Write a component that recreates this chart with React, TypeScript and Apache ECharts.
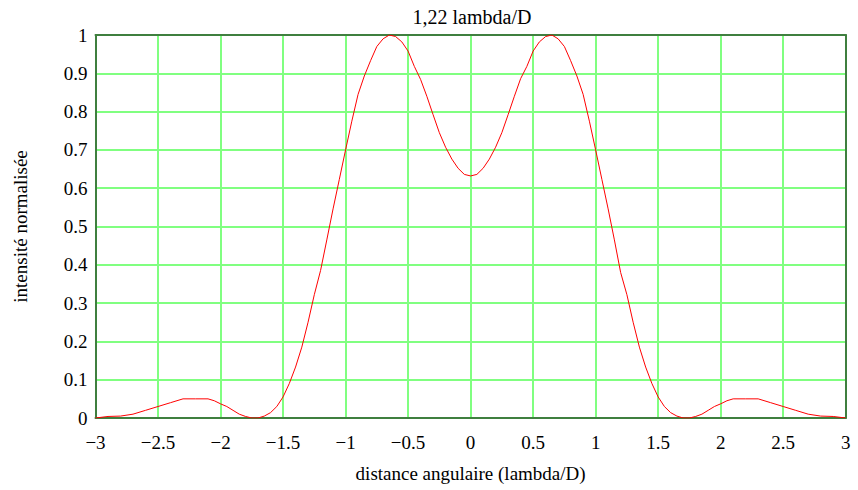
import React, { useEffect, useRef } from "react";
import * as echarts from "echarts";

const TITLE = "1,22 lambda/D";
const X_NAME = "distance angulaire (lambda/D)";
const Y_NAME = "intensité normalisée";

const xValues = [
  -3.0, -2.9, -2.8, -2.7, -2.6, -2.5, -2.4, -2.3, -2.2, -2.1, -2.05, -2.0, -1.95, -1.9, -1.85, -1.8, -1.75, -1.7,
  -1.65, -1.6, -1.55, -1.5, -1.45, -1.4, -1.35, -1.3, -1.25, -1.2, -1.15, -1.1, -1.05, -1.0, -0.95, -0.9, -0.85,
  -0.8, -0.75, -0.7, -0.65, -0.6, -0.55, -0.5, -0.45, -0.4, -0.35, -0.3, -0.25, -0.2, -0.15, -0.1, -0.05, 0.0,
  0.05, 0.1, 0.15, 0.2, 0.25, 0.3, 0.35, 0.4, 0.45, 0.5, 0.55, 0.6, 0.65, 0.7, 0.75, 0.8, 0.85, 0.9, 0.95, 1.0,
  1.05, 1.1, 1.15, 1.2, 1.25, 1.3, 1.35, 1.4, 1.45, 1.5, 1.55, 1.6, 1.65, 1.7, 1.75, 1.8, 1.85, 1.9, 1.95, 2.0,
  2.05, 2.1, 2.2, 2.3, 2.4, 2.5, 2.6, 2.7, 2.8, 2.9, 3.0,
];

const intensity = [
  0.0, 0.004, 0.005, 0.01, 0.02, 0.03, 0.04, 0.05, 0.05, 0.05, 0.045, 0.037, 0.03, 0.02, 0.01, 0.004, 0.0, 0.0,
  0.005, 0.014, 0.03, 0.055, 0.09, 0.133, 0.185, 0.25, 0.322, 0.385, 0.465, 0.546, 0.623, 0.7, 0.775, 0.845, 0.893,
  0.933, 0.97, 0.99, 1.0, 0.996, 0.982, 0.958, 0.918, 0.884, 0.84, 0.792, 0.745, 0.707, 0.676, 0.652, 0.636, 0.632,
  0.636, 0.652, 0.676, 0.707, 0.745, 0.792, 0.84, 0.886, 0.918, 0.958, 0.982, 0.996, 1.0, 0.99, 0.97, 0.933, 0.893, 0.845, 0.775, 0.7,
  0.623, 0.546, 0.465, 0.38, 0.322, 0.25, 0.185, 0.133, 0.09, 0.055, 0.03, 0.014, 0.005, 0.0, 0.0, 0.004, 0.01, 0.02, 0.03, 0.037,
  0.045, 0.05, 0.05, 0.05, 0.04, 0.03, 0.02, 0.01, 0.005, 0.004, 0.0,
];

const X_MIN = -3;
const X_MAX = 3;
const X_STEP = 0.5;
const Y_MIN = 0;
const Y_MAX = 1;
const Y_STEP = 0.1;

const FONT = "'Liberation Serif', 'Times New Roman', serif";
const BORDER = "#3f7f3f";
const GRID = "#80ff80";

export default function App() {
  const ref = useRef<HTMLDivElement>(null);

  useEffect(() => {
    document.body.style.margin = "0";
    if (!ref.current) return;
    const chart = echarts.init(ref.current, null, { renderer: "svg" });
    const data = xValues.map((x, i) => [x, intensity[i]]);
    const hidden = {
      axisLabel: { show: false },
      axisTick: { show: false },
      splitLine: { show: false },
      axisLine: { show: true, onZero: false, lineStyle: { color: BORDER, width: 2 } },
    };
    chart.setOption({
      animation: false,
      backgroundColor: "#ffffff",
      title: {
        text: TITLE,
        left: 472,
        top: 7,
        textAlign: "center",
        padding: 0,
        textStyle: { fontFamily: FONT, fontSize: 20, fontWeight: "normal", color: "#000" },
      },
      grid: { left: 95.5, right: 12.3, top: 35, bottom: 72, containLabel: false },
      xAxis: [
        {
          type: "value",
          min: X_MIN,
          max: X_MAX,
          interval: X_STEP,
          name: X_NAME,
          nameLocation: "middle",
          nameGap: 46,
          nameTextStyle: { fontFamily: FONT, fontSize: 19, color: "#000" },
          axisLine: { show: true, onZero: false, lineStyle: { color: BORDER, width: 2 } },
          axisTick: { show: false },
          axisLabel: {
            margin: 15,
            fontFamily: FONT,
            fontSize: 19,
            color: "#000",
            formatter: (v: number) => (v < 0 ? "\u2212" + String(Math.abs(v)) : String(v)),
          },
          splitLine: { show: true, lineStyle: { color: GRID, width: 2 } },
        },
        { type: "value", position: "top", min: X_MIN, max: X_MAX, interval: X_STEP, ...hidden },
      ],
      yAxis: [
        {
          type: "value",
          min: Y_MIN,
          max: Y_MAX,
          interval: Y_STEP,
          name: Y_NAME,
          nameLocation: "middle",
          nameGap: 66,
          nameRotate: 90,
          nameTextStyle: { fontFamily: FONT, fontSize: 19, color: "#000" },
          axisLine: { show: true, onZero: false, lineStyle: { color: BORDER, width: 2 } },
          axisTick: { show: false },
          axisLabel: {
            margin: 8,
            fontFamily: FONT,
            fontSize: 19,
            color: "#000",
            formatter: (v: number) => String(Math.round(v * 10) / 10),
          },
          splitLine: { show: true, lineStyle: { color: GRID, width: 2 } },
        },
        { type: "value", position: "right", min: Y_MIN, max: Y_MAX, interval: Y_STEP, ...hidden },
      ],
      series: [
        {
          type: "line",
          data,
          xAxisIndex: 0,
          yAxisIndex: 0,
          showSymbol: false,
          smooth: false,
          lineStyle: { color: "#ff0000", width: 1 },
          z: 5,
        },
      ],
    });
    return () => chart.dispose();
  }, []);

  return (
    <div
      ref={ref}
      style={{ position: "absolute", left: 0, top: 0, width: 858, height: 490 }}
    />
  );
}
